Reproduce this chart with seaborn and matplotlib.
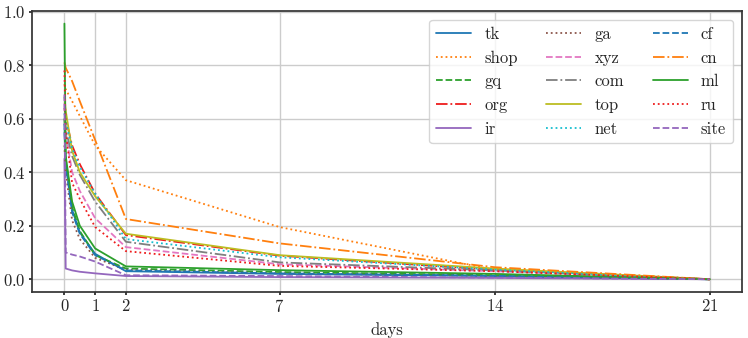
import matplotlib
matplotlib.use("Agg")
from matplotlib import pyplot as plt
import seaborn as sns

# time points (days) and share of domains still alive per TLD
days = [0, 1 / 24, 0.25, 0.5, 1, 2, 7, 14, 21]

tk = [0.55, 0.44, 0.26, 0.175, 0.095, 0.030, 0.020, 0.012, 0]
shop = [0.73, 0.71, 0.665, 0.61, 0.50, 0.37, 0.195, 0.035, 0]
gq = [0.60, 0.45, 0.27, 0.18, 0.09, 0.040, 0.027, 0.015, 0]
org = [0.64, 0.60, 0.50, 0.43, 0.32, 0.165, 0.088, 0.035, 0]
ir = [0.45, 0.04, 0.033, 0.028, 0.022, 0.012, 0.008, 0.005, 0]
ga = [0.50, 0.40, 0.22, 0.15, 0.08, 0.035, 0.022, 0.013, 0]
xyz = [0.66, 0.55, 0.40, 0.33, 0.228, 0.12, 0.056, 0.030, 0]
com = [0.60, 0.56, 0.46, 0.39, 0.29, 0.14, 0.063, 0.033, 0]
top = [0.68, 0.63, 0.48, 0.40, 0.31, 0.17, 0.090, 0.040, 0]
net = [0.62, 0.59, 0.49, 0.42, 0.32, 0.15, 0.082, 0.036, 0]
cf = [0.58, 0.43, 0.25, 0.17, 0.09, 0.033, 0.022, 0.013, 0]
cn = [0.81, 0.79, 0.74, 0.665, 0.52, 0.225, 0.134, 0.045, 0]
ml = [0.955, 0.46, 0.29, 0.20, 0.115, 0.048, 0.034, 0.020, 0]
ru = [0.78, 0.55, 0.36, 0.30, 0.195, 0.105, 0.050, 0.030, 0]
site = [0.69, 0.10, 0.092, 0.085, 0.066, 0.015, 0.012, 0.006, 0]

tlds = ["tk", "shop", "gq", "org", "ir", "ga", "xyz", "com",
        "top", "net", "cf", "cn", "ml", "ru", "site"]
series = [tk, shop, gq, org, ir, ga, xyz, com, top, net, cf, cn, ml, ru, site]

xticks = [0, 1, 2, 7, 14, 21]

sns.set_theme(style="ticks", rc={"axes.grid": True})
plt.rcParams["font.family"] = ["cmr10", "DejaVu Serif"]
plt.rcParams["axes.formatter.use_mathtext"] = True
plt.rcParams["mathtext.fontset"] = "cm"

colors = sns.color_palette("tab10", 10)
styles = ["-", ":", "--", "-."]

fig, ax = plt.subplots(figsize=(7.48, 3.38), dpi=100)
for i, (name, vals) in enumerate(zip(tlds, series)):
    c = colors[i % 10]
    if name == "org" or name == "ru":
        c = "#ee1c1c"
    sns.lineplot(x=days, y=vals, ax=ax, label=name, color=c,
                 linestyle=styles[i % 4], linewidth=1.3)

ax.set_xticks(xticks)
ax.set_xlabel("days", fontsize=12, labelpad=5)
ax.set_ylabel("")
ax.tick_params(labelsize=12, length=2.5, pad=2)
ax.grid(True, color="0.8")
for s in ax.spines.values():
    s.set_color("0.2")
ax.legend(ncol=3, loc="upper right", fontsize=12, handlelength=2.1,
          columnspacing=1.7, labelspacing=0.5, borderaxespad=0.55)

fig.subplots_adjust(left=0.043, right=0.992, top=0.968, bottom=0.136)
fig.savefig("out.png", dpi=100)
